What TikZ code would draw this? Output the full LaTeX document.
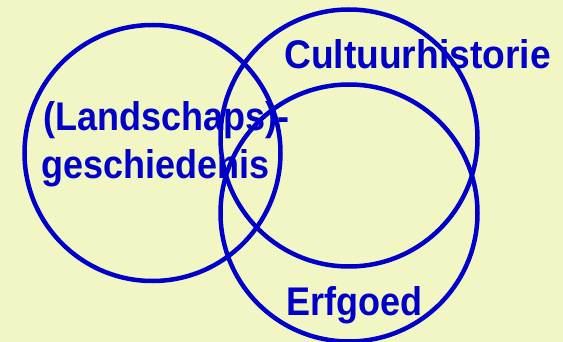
\documentclass[tikz,border=0pt]{standalone}
\usepackage{fontspec}
\newfontfamily\lblfont{Liberation Sans}[FakeStretch=0.9]
\newfontfamily\lblwide{Liberation Sans}[FakeStretch=0.93]
\definecolor{bgyellow}{RGB}{242,246,196}
\definecolor{vennblue}{RGB}{0,0,200}
\begin{document}
\begin{tikzpicture}[x=1pt,y=-1pt,
  ring/.style={draw=vennblue,line width=4.5pt},
  lbl/.style={anchor=base west,inner sep=0pt,text=vennblue,font=\lblfont\bfseries\fontsize{40}{48}\selectfont}]
\fill[bgyellow] (0,0) rectangle (563,342);
\useasboundingbox (0,0) rectangle (563,342);
\draw[ring] (152.5,153) circle[radius=128];
\draw[ring] (349,138) circle[radius=128.5];
\draw[ring] (349,213) circle[radius=128.5];
\node[lbl,font=\lblwide\bfseries\fontsize{40}{48}\selectfont] (cult) at (284,69) {Cultuurhistorie};
\node[lbl] (land) at (43,130.5) {(Landschaps)-};
\node[lbl] (gesch) at (41.5,178.5) {geschiedenis};
\node[lbl] (erf) at (286.5,315.5) {Erfgoed};
\end{tikzpicture}
\end{document}
